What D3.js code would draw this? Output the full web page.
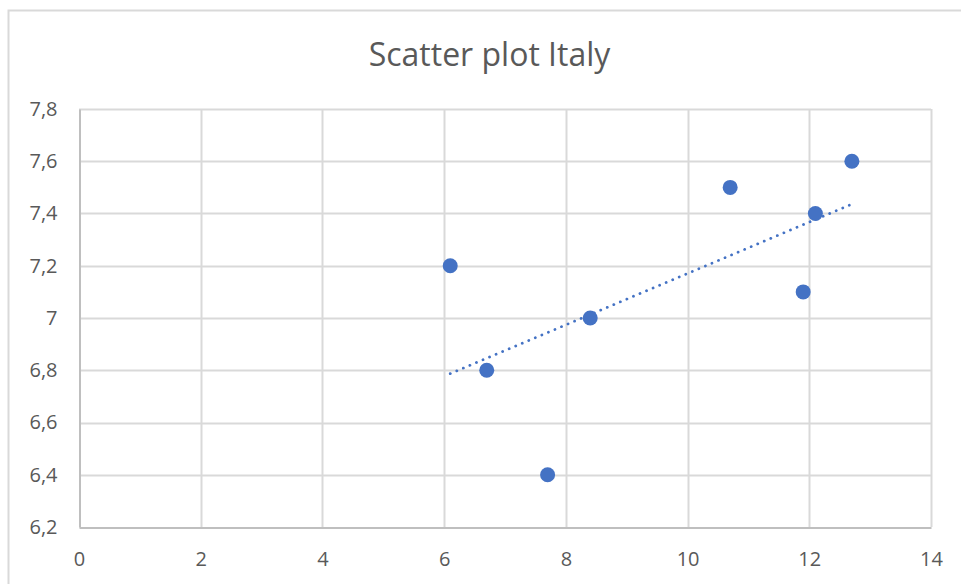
<!DOCTYPE html>
<html>
<head>
<meta charset="utf-8">
<script src="https://cdn.jsdelivr.net/npm/d3@7"></script>
<style>
  body { margin: 0; background: #fff; }
  text { font-family: "Open Sans", "Noto Sans", sans-serif; fill: #595959; }
</style>
</head>
<body>
<div id="scatter"></div>
<script>
//  data
var TITLE = "Scatter plot Italy";
var X_VALUES = [6.1, 6.7, 7.7, 8.4, 10.7, 11.9, 12.1, 12.7];
var Y_VALUES = [7.2, 6.8, 6.4, 7.0, 7.5, 7.1, 7.4, 7.6];
var X_TICKS = [0, 2, 4, 6, 8, 10, 12, 14];
var Y_TICKS = [6.2, 6.4, 6.6, 6.8, 7.0, 7.2, 7.4, 7.6, 7.8];

//  draw
function draw_scatter() {
  const w = 961
  const h = 584
  const margin = ({top: 109, right: 30, bottom: 57, left: 79})

  const svg = d3.select("#scatter").append("svg").attr("width", w).attr("height", h)

  // chart border (cut off at right and bottom)
  svg.append("rect")
     .attr("x", 8.5).attr("y", 10.5)
     .attr("width", 980).attr("height", 600)
     .attr("fill", "none").attr("stroke", "#d9d9d9").attr("stroke-width", 2)

  const x = d3.scaleLinear().domain([0, 14]).range([margin.left, w - margin.right])
  const y = d3.scaleLinear().domain([6.2, 7.8]).range([h - margin.bottom, margin.top])
  const fmt = d => d3.format("~g")(+d.toFixed(1)).replace(".", ",")

  // gridlines
  svg.append("g").selectAll("line").data(X_TICKS.slice(1)).enter()
     .append("line")
     .attr("x1", d => Math.round(x(d)) + 0.5).attr("x2", d => Math.round(x(d)) + 0.5)
     .attr("y1", y(7.8)).attr("y2", y(6.2))
     .attr("stroke", "#d9d9d9").attr("stroke-width", 2)

  svg.append("g").selectAll("line").data(Y_TICKS.slice(1)).enter()
     .append("line")
     .attr("x1", x(0)).attr("x2", x(14))
     .attr("y1", d => Math.round(y(d)) + 0.5).attr("y2", d => Math.round(y(d)) + 0.5)
     .attr("stroke", "#d9d9d9").attr("stroke-width", 2)

  // axes
  const xAxis = g => g
      .attr("transform", `translate(0,${Math.round(y(6.2)) + 0.5})`)
      .call(d3.axisBottom(x).tickValues(X_TICKS).tickFormat(fmt).tickSize(0).tickPadding(24))
      .call(g => g.select(".domain").attr("stroke", "#bfbfbf").attr("stroke-width", 2))

  const yAxis = g => g
      .attr("transform", `translate(${Math.round(x(0)) + 0.5},0)`)
      .call(d3.axisLeft(y).tickValues(Y_TICKS).tickFormat(fmt).tickSize(0).tickPadding(22))
      .call(g => g.select(".domain").attr("stroke", "#bfbfbf").attr("stroke-width", 2))

  svg.append("g").call(xAxis)
  svg.append("g").call(yAxis)

  svg.selectAll(".tick text")
     .style("font-size", "20px")
     .attr("fill", "#595959")
     .style("font-family", "'Open Sans', 'Noto Sans', sans-serif")

  // trendline (least squares)
  const mx = d3.mean(X_VALUES), my = d3.mean(Y_VALUES)
  const sxy = d3.sum(X_VALUES, (v, i) => (v - mx) * (Y_VALUES[i] - my))
  const sxx = d3.sum(X_VALUES, v => (v - mx) * (v - mx))
  const slope = sxy / sxx
  const icpt = my - slope * mx
  const [x0, x1] = d3.extent(X_VALUES)

  svg.append("line")
     .attr("x1", x(x0)).attr("y1", y(icpt + slope * x0))
     .attr("x2", x(x1)).attr("y2", y(icpt + slope * x1))
     .attr("stroke", "#4472c4").attr("stroke-width", 2.75)
     .attr("stroke-linecap", "round")
     .attr("stroke-dasharray", "0.1 7")

  // points
  svg.append("g").selectAll("circle").data(X_VALUES).enter()
     .append("circle")
     .attr("cx", (d, i) => x(d))
     .attr("cy", (d, i) => y(Y_VALUES[i]))
     .attr("r", 7.5)
     .style("fill", "#4472c4")

  // title
  svg.append("text")
     .attr("x", 489.5)
     .attr("y", 66)
     .attr("text-anchor", "middle")
     .style("font-size", "32px")
     .text(TITLE)

  return svg.node()
}

draw_scatter();
</script>
</body>
</html>
